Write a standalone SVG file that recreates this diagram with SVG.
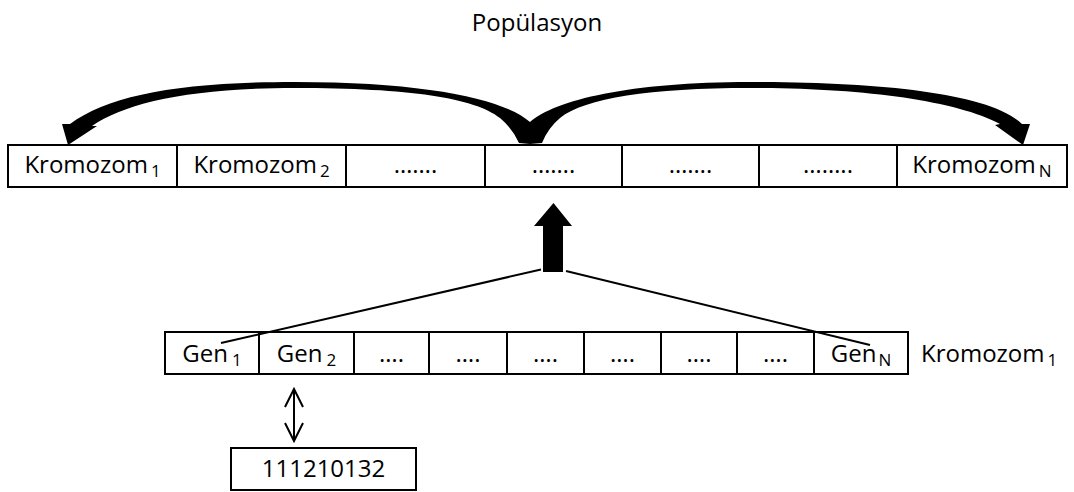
<svg xmlns="http://www.w3.org/2000/svg" width="1074" height="492" viewBox="0 0 1074 492">
<defs>
<style>
text{font-family:"Open Sans","Noto Sans","Liberation Sans",sans-serif;font-size:24px;fill:#000;text-anchor:middle}
.cell{fill:#fff;stroke:#000;stroke-width:2}
.sub{font-size:17px}
.thin{fill:none;stroke:#000;stroke-width:2}
.solid{fill:#000;stroke:none}
</style>
</defs>
<rect width="1074" height="492" fill="#fff"/>
<g id="title"><text x="537" y="31">Popülasyon</text></g>

<g id="population">
<g id="chrom1"><rect class="cell" x="8" y="145" width="169" height="42"/><text x="92.5" y="173">Kromozom<tspan class="sub" dx="3" dy="4">1</tspan></text></g>
<g id="chrom2"><rect class="cell" x="177" y="145" width="169" height="42"/><text x="261.5" y="173">Kromozom<tspan class="sub" dx="3" dy="4">2</tspan></text></g>
<g id="chrom3"><rect class="cell" x="346" y="145" width="139" height="42"/><text x="415.5" y="173">…….</text></g>
<g id="chrom4"><rect class="cell" x="485" y="145" width="137" height="42"/><text x="553.5" y="173">…….</text></g>
<g id="chrom5"><rect class="cell" x="622" y="145" width="137" height="42"/><text x="690.5" y="173">…….</text></g>
<g id="chrom6"><rect class="cell" x="759" y="145" width="138" height="42"/><text x="828" y="173">……..</text></g>
<g id="chromN"><rect class="cell" x="897" y="145" width="170" height="42"/><text x="982" y="173">Kromozom<tspan class="sub" dx="3" dy="4">N</tspan></text></g>
</g>

<g id="chromosome">
<g id="gen1"><rect class="cell" x="165" y="332" width="94" height="42"/><text x="212" y="362">Gen<tspan class="sub" dx="4" dy="4">1</tspan></text></g>
<g id="gen2"><rect class="cell" x="259" y="332" width="95" height="42"/><text x="306.5" y="362">Gen<tspan class="sub" dx="4" dy="4">2</tspan></text></g>
<g id="gen3"><rect class="cell" x="354" y="332" width="75" height="42"/><text x="391.5" y="362">….</text></g>
<g id="gen4"><rect class="cell" x="429" y="332" width="78" height="42"/><text x="468" y="362">….</text></g>
<g id="gen5"><rect class="cell" x="507" y="332" width="77" height="42"/><text x="545.5" y="362">….</text></g>
<g id="gen6"><rect class="cell" x="584" y="332" width="77" height="42"/><text x="622.5" y="362">….</text></g>
<g id="gen7"><rect class="cell" x="661" y="332" width="76" height="42"/><text x="699" y="362">….</text></g>
<g id="gen8"><rect class="cell" x="737" y="332" width="77" height="42"/><text x="775.5" y="362">….</text></g>
<g id="genN"><rect class="cell" x="814" y="332" width="94" height="42"/><text x="861" y="362">Gen<tspan class="sub" dx="2" dy="4">N</tspan></text></g>
</g>
<g id="chromLabel"><text x="921" y="362" style="text-anchor:start">Kromozom<tspan class="sub" dx="3" dy="4">1</tspan></text></g>

<g id="value"><rect class="cell" x="231" y="448" width="185" height="42"/><text x="323.5" y="477">111210132</text></g>

<g id="connectors">
<path class="solid" d="M519,143 Q512,128 500,118 C475,98 410,88 295,88 C190,88 125,103 92,126 L97,126 L68,145 L62,124 L70,124 C110,95 180,82 295,82 C430,82 505,100 530,122 L530,144 Z"/>
<path class="solid" d="M542,143 Q548,128 560,118 C585,98 650,88 750,88 C860,88 955,100 1000,124 L995,125 L1023,145 L1030,124 L1022,124 C990,93 880,82 750,82 C630,82 555,100 530,122 L530,144 Z"/>
<path class="solid" d="M553.5,203 L572,226 L563,226 L563,272 L543,272 L543,226 L534,226 Z"/>
<line class="thin" x1="221" y1="343" x2="541" y2="269.5"/>
<line class="thin" x1="566" y1="271" x2="870" y2="345"/>
<path class="thin" d="M294,389 L294,441 M285,407 L294,389 L303,407 M285,423 L294,441 L303,423"/>
</g>
</svg>
